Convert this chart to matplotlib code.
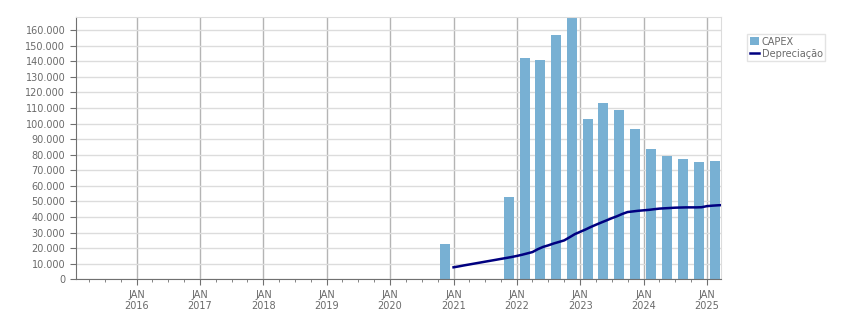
import numpy as np
import pandas as pd
import matplotlib
matplotlib.use("Agg")
import matplotlib.pyplot as plt
import matplotlib.dates as mdates
from matplotlib.ticker import FuncFormatter, MultipleLocator

# ---------------------------------------------------------------- data
capex_dates = ["2020-11-15", "2021-11-15", "2022-02-15", "2022-05-15",
               "2022-08-15", "2022-11-15", "2023-02-15", "2023-05-15",
               "2023-08-15", "2023-11-15", "2024-02-15", "2024-05-15",
               "2024-08-15", "2024-11-15", "2025-02-15"]
capex = [22700, 52800, 142000, 140800, 156800, 167800, 102900, 113200,
         108700, 96500, 83600, 79100, 77200, 75300, 76000]

dep_start = "2021-01-01"
depreciacao = [7700, 8300, 8900, 9500, 10100, 10700, 11300, 11900, 12500, 13100, 13700, 14300,
               15000, 15800, 16600, 17500, 19300, 20800, 21800, 23000, 24000, 25000, 27000, 29000,
               30500, 32000, 33500, 35000, 36400, 37800, 39200, 40500, 42000, 43200, 43600, 44000,
               44300, 44600, 45000, 45400, 45600, 45800, 46000, 46100, 46200, 46200, 46200, 46300,
               47000, 47300, 47500, 47700]

# ---------------------------------------------------------------- plot
txt = "#6a6a6a"
plt.rcParams["font.family"] = ["DejaVu Sans"]
plt.rcParams["font.size"] = 7

fig = plt.figure(figsize=(8.51, 3.13), dpi=100)
ax = fig.add_axes([0.089, 0.1077, 0.7587, 0.837])

x_bar = pd.to_datetime(capex_dates)
x_dep = pd.date_range(dep_start, periods=len(depreciacao), freq="MS")

h_bar = ax.bar(x_bar, capex, width=57, color="#78b0d3", label="CAPEX", zorder=2)
h_dep, = ax.plot(x_dep, depreciacao, color="#000080", lw=1.8, label="Depreciação", zorder=3)

ax.set_xlim(pd.Timestamp("2015-01-15"), pd.Timestamp("2025-03-25"))
ax.set_ylim(0, 168300)

ax.xaxis.set_major_locator(mdates.YearLocator())
ax.xaxis.set_minor_locator(mdates.MonthLocator(bymonth=[4, 7, 10]))
ax.xaxis.set_major_formatter(FuncFormatter(lambda v, p: "JAN\n" + mdates.num2date(v).strftime("%Y")))
ax.yaxis.set_major_locator(MultipleLocator(10000))
ax.yaxis.set_major_formatter(FuncFormatter(lambda v, p: f"{int(v):,}".replace(",", ".")))

ax.grid(axis="y", color="#dcdcdc", lw=1, zorder=0)
ax.grid(axis="x", which="major", color="#b4b4b4", lw=1, zorder=0)
ax.set_axisbelow(True)

for s in ["top", "right"]:
    ax.spines[s].set_color("#dcdcdc")
for s in ["left", "bottom"]:
    ax.spines[s].set_color("#707070")

ax.tick_params(axis="both", which="major", colors="#707070", labelcolor=txt, length=4, labelsize=7)
ax.tick_params(axis="x", which="minor", colors="#707070", length=2)

leg = fig.legend([h_bar, h_dep], ["CAPEX", "Depreciação"], loc="upper left",
                 bbox_to_anchor=(0.872, 0.908), frameon=True,
                 fancybox=False, edgecolor="#dcdcdc", fontsize=7, handlelength=0.9,
                 handleheight=0.9, handletextpad=0.3, borderpad=0.3, labelspacing=0.2)
for t in leg.get_texts():
    t.set_color(txt)

fig.savefig("out.png", dpi=100)
